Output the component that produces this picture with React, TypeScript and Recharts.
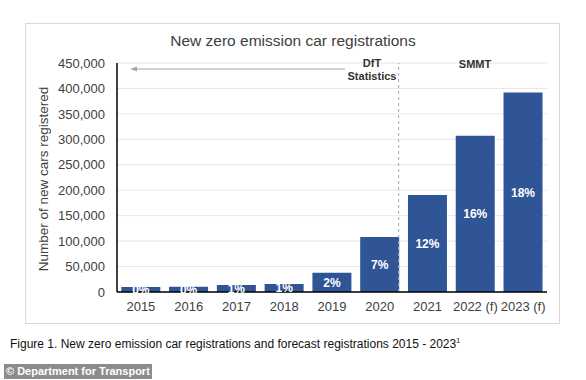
import React from 'react';
import {
  BarChart,
  Bar,
  XAxis,
  YAxis,
  CartesianGrid,
  ReferenceLine,
  LabelList,
} from 'recharts';

// Years shown on the x axis ((f) = forecast)
const YEARS = ['2015', '2016', '2017', '2018', '2019', '2020', '2021', '2022 (f)', '2023 (f)'];

// New zero emission car registrations
const REGISTRATIONS = [9900, 10300, 13600, 15500, 37900, 108200, 190700, 307000, 392000];

// Share of new registrations printed inside each bar
const SHARE_LABELS = ['0%', '0%', '1%', '1%', '2%', '7%', '12%', '16%', '18%'];

// Y axis ticks
const Y_TICKS = [0, 50000, 100000, 150000, 200000, 250000, 300000, 350000, 400000, 450000];

const data = YEARS.map((year, i) => ({
  year,
  registrations: REGISTRATIONS[i],
  share: SHARE_LABELS[i],
}));

const FONT = '"Liberation Sans", Arial, sans-serif';
const BAR_COLOR = '#2F5597';
const TEXT_COLOR = '#404040';

// dashed separator sits on the right edge of the 2020 bar
const renderDivider = (props: any) => {
  const x = props.x1 - 5;
  return (
    <line
      x1={x}
      y1={props.y1}
      x2={x}
      y2={props.y2}
      stroke="#a6a6a6"
      strokeWidth={1}
      strokeDasharray="3 3"
    />
  );
};

const App: React.FC = () => {
  return (
    <div
      style={{
        position: 'fixed',
        left: 0,
        top: 0,
        width: 586,
        height: 380,
        background: '#fff',
        fontFamily: FONT,
        overflow: 'hidden',
      }}
    >
      {/* chart frame */}
      <div
        style={{
          position: 'absolute',
          left: 25,
          top: 23,
          width: 533,
          height: 299,
          border: '1px solid #d9d9d9',
        }}
      />

      <div
        style={{
          position: 'absolute',
          left: 0,
          top: 33,
          width: 586,
          textAlign: 'center',
          fontSize: 15.5,
          color: TEXT_COLOR,
          lineHeight: '16px',
        }}
      >
        New zero emission car registrations
      </div>

      <div
        style={{
          position: 'absolute',
          left: 43,
          top: 179,
          transform: 'translate(-50%, -50%) rotate(-90deg)',
          whiteSpace: 'nowrap',
          fontSize: 13.5,
          color: TEXT_COLOR,
        }}
      >
        Number of new cars registered
      </div>

      <div style={{ position: 'absolute', left: 25, top: 23 }}>
        <BarChart
          width={534}
          height={300}
          data={data}
          margin={{ top: 40, right: 12, bottom: 0, left: 0 }}
          barCategoryGap="9%"
        >
          <CartesianGrid vertical={false} stroke="#e6e6e6" />
          <XAxis
            dataKey="year"
            height={31}
            interval={0}
            tickLine={false}
            tickSize={0}
            tickMargin={10}
            axisLine={{ stroke: '#000', strokeWidth: 1.5 }}
            tick={{ fill: TEXT_COLOR, fontSize: 13, fontFamily: FONT }}
          />
          <YAxis
            width={92}
            domain={[0, 450000]}
            ticks={Y_TICKS}
            tickLine={false}
            tickSize={0}
            tickMargin={12}
            axisLine={{ stroke: '#000', strokeWidth: 1.5 }}
            tickFormatter={(v: number) => v.toLocaleString('en-US')}
            tick={{ fill: TEXT_COLOR, fontSize: 13, fontFamily: FONT }}
          />
          <ReferenceLine x="2020" position="end" shape={renderDivider} />
          <Bar dataKey="registrations" fill={BAR_COLOR} isAnimationActive={false}>
            <LabelList
              dataKey="share"
              position="center"
              fill="#fff"
              style={{ fontWeight: 700, fontSize: 12, fontFamily: FONT }}
            />
          </Bar>
        </BarChart>
      </div>

      {/* source annotations */}
      <svg
        width={586}
        height={380}
        style={{ position: 'absolute', left: 0, top: 0, pointerEvents: 'none' }}
      >
        <line x1={133} y1={69} x2={345} y2={69} stroke="#a6a6a6" strokeWidth={1} />
        <path d="M130,69 L137,66.5 L137,71.5 Z" fill="#a6a6a6" />
        <text
          x={372}
          y={63}
          textAnchor="middle"
          dominantBaseline="central"
          fontSize={11}
          fontWeight={700}
          fill="#333"
          fontFamily={FONT}
        >
          DfT
        </text>
        <text
          x={372}
          y={76}
          textAnchor="middle"
          dominantBaseline="central"
          fontSize={11}
          fontWeight={700}
          fill="#333"
          fontFamily={FONT}
        >
          Statistics
        </text>
        <text
          x={475}
          y={64}
          textAnchor="middle"
          dominantBaseline="central"
          fontSize={11}
          fontWeight={700}
          fill="#333"
          fontFamily={FONT}
        >
          SMMT
        </text>
      </svg>

      <div
        style={{
          position: 'absolute',
          left: 10,
          top: 337,
          fontSize: 12,
          color: '#111',
          whiteSpace: 'nowrap',
        }}
      >
        Figure 1. New zero emission car registrations and forecast registrations 2015 - 2023
        <sup style={{ fontSize: 7 }}>1</sup>
      </div>

      <div
        style={{
          position: 'absolute',
          left: 4,
          top: 364,
          width: 148,
          height: 15,
          background: '#8c8c8c',
          color: '#fff',
          fontSize: 11,
          fontWeight: 700,
          lineHeight: '15px',
          paddingLeft: 2,
          boxSizing: 'border-box',
          whiteSpace: 'nowrap',
        }}
      >
        © Department for Transport
      </div>
    </div>
  );
};

export default App;
